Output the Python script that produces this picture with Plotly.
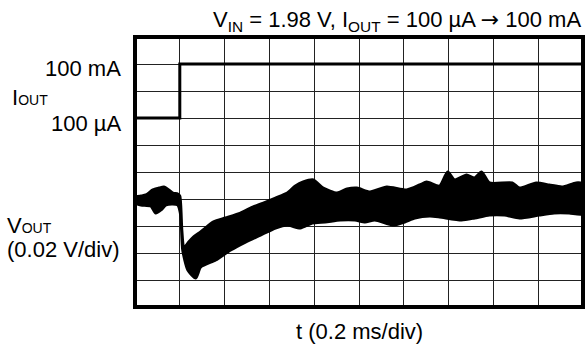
import plotly.graph_objects as go

# ---- data ----
# time in ms (0.2 ms/div), Vout deviation in mV (20 mV/div)
t_upper = [0.000, 0.027, 0.049, 0.080, 0.107, 0.129, 0.151, 0.169, 0.191, 0.200,
           0.209, 0.218, 0.240, 0.262, 0.293, 0.351, 0.404, 0.471, 0.516, 0.573,
           0.627, 0.680, 0.716, 0.751, 0.796, 0.840, 0.902, 0.947, 0.991, 1.049,
           1.124, 1.213, 1.271, 1.302, 1.360, 1.396, 1.427, 1.480, 1.516, 1.547,
           1.582, 1.684, 1.716, 1.791, 1.849, 1.907, 1.969, 2.000]
v_upper = [1.5, 2.2, 3.0, 6.7, 8.1, 8.9, 6.7, 4.4, 3.7, 2.2,
           -23.0, -36.3, -31.9, -28.1, -24.4, -17.0, -14.1, -10.4, -6.7, -3.0,
           0.7, 4.4, 9.6, 12.6, 14.1, 8.1, 4.4, 7.4, 8.1, 5.2,
           8.9, 6.7, 10.4, 12.6, 9.6, 20.0, 14.1, 17.8, 15.6, 20.0,
           11.9, 11.9, 8.1, 11.9, 10.4, 8.9, 11.9, 11.1]
t_lower = [0.000, 0.027, 0.071, 0.093, 0.116, 0.138, 0.169, 0.191, 0.204, 0.213,
           0.236, 0.271, 0.293, 0.360, 0.427, 0.493, 0.560, 0.627, 0.680, 0.738,
           0.791, 0.849, 0.916, 0.982, 1.027, 1.071, 1.151, 1.204, 1.249, 1.316,
           1.360, 1.458, 1.516, 1.582, 1.649, 1.716, 1.804, 1.871, 1.938, 2.000]
v_lower = [-3.0, -4.4, -5.2, -10.4, -8.1, -4.4, -3.7, -4.4, -11.9, -37.8,
           -52.6, -58.5, -50.4, -45.2, -37.8, -31.9, -26.7, -21.5, -19.3, -21.5,
           -17.8, -17.0, -15.6, -15.6, -17.0, -15.6, -19.3, -17.0, -14.1, -12.6,
           -13.3, -15.6, -14.1, -11.9, -11.9, -14.1, -11.9, -10.4, -10.4, -11.1]

# load current step
t_iout = [0.0, 0.2, 0.2, 2.0]
iout_ma = [0.1, 0.1, 100, 100]
iout_level_div = {0.1: 7, 100: 9}   # screen division of each current level

title_text = ("V<sub>IN</sub> = 1.98 V, I<sub>OUT</sub> = 100 µA "
              "<span style='font-family:DejaVu Sans'>→</span> 100 mA")
x_label = "t (0.2 ms/div)"
label_hi = "100 mA"
label_lo = "100 µA"

FONT = "Liberation Sans, Arial, sans-serif"

fig = go.Figure()

# Vout band (envelope of the noisy trace)
fig.add_trace(go.Scatter(
    x=t_upper + t_lower[::-1], y=v_upper + v_lower[::-1],
    mode="lines", fill="toself", fillcolor="black",
    line=dict(color="black", width=3, shape="spline", smoothing=0.6),
    hoverinfo="skip", showlegend=False, yaxis="y"))

# Iout step
fig.add_trace(go.Scatter(
    x=t_iout, y=[iout_level_div[v] for v in iout_ma],
    mode="lines", line=dict(color="black", width=3),
    hoverinfo="skip", showlegend=False, yaxis="y2"))

L, R, T, B = 135, 583, 37, 307
W, H = 587, 345

fig.update_layout(
    width=W, height=H,
    margin=dict(l=L, r=W - R, t=T, b=H - B, pad=0),
    paper_bgcolor="white", plot_bgcolor="white",
    showlegend=False,
    xaxis=dict(range=[0, 2.0], dtick=0.2, showgrid=True, gridcolor="#222",
               gridwidth=1, showticklabels=False, ticks="", zeroline=False,
               showline=False, fixedrange=True),
    yaxis=dict(range=[-80, 120], dtick=20, showgrid=True, gridcolor="#222",
               gridwidth=1, showticklabels=False, ticks="", zeroline=False,
               showline=False, fixedrange=True),
    yaxis2=dict(range=[0, 10], overlaying="y", showgrid=False,
                showticklabels=False, ticks="", zeroline=False, showline=False,
                fixedrange=True),
    font=dict(family=FONT, color="black", size=22),
)

# frame
fig.add_shape(type="rect", xref="paper", yref="paper", x0=0, x1=1, y0=0, y1=1,
              line=dict(color="black", width=4), layer="above")


def px(xp):
    return (xp - L) / (R - L)


def py(yp):
    return (B - yp) / (B - T)


ann = [
    dict(text=title_text, x=px(583), y=py(21), xanchor="right", yanchor="middle"),
    dict(text=label_hi, x=px(123), y=py(69), xanchor="right", yanchor="middle"),
    dict(text=label_lo, x=px(123), y=py(124), xanchor="right", yanchor="middle"),
    dict(text="I<span style='font-size:14px'>OUT</span>", x=px(10), y=py(97),
         xanchor="left", yanchor="middle"),
    dict(text="V<span style='font-size:14px'>OUT</span>", x=px(5), y=py(225),
         xanchor="left", yanchor="middle"),
    dict(text="(0.02 V/div)", x=px(5), y=py(249), xanchor="left", yanchor="middle"),
    dict(text=x_label, x=0.5, y=py(331), xanchor="center", yanchor="middle"),
]
for a in ann:
    fig.add_annotation(xref="paper", yref="paper", showarrow=False,
                       font=dict(family=FONT, size=22, color="black"), **a)

fig.write_html("out.html", config={"displayModeBar": False},
               post_script="document.body.style.margin='0px';"
                           "document.body.style.overflow='hidden';")
